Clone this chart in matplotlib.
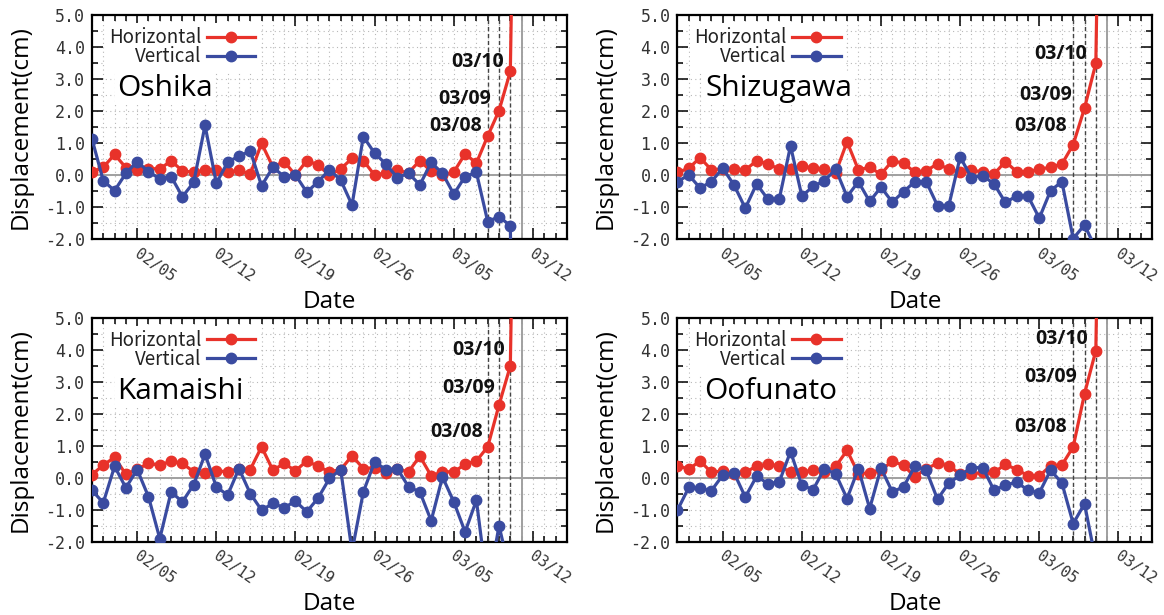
import numpy as np
import pandas as pd
import matplotlib
matplotlib.use("Agg")
import matplotlib.pyplot as plt
import matplotlib.dates as mdates
from matplotlib.ticker import MultipleLocator
from matplotlib.transforms import ScaledTranslation

# daily displacement, 02/01 .. 03/10, then the 03/11 quake day (off scale)
dates = pd.date_range("2011-02-01", "2011-03-11", freq="D")

oshika_h = [0.1, 0.25, 0.65, 0.24, 0.15, 0.21, 0.2, 0.45, 0.14, 0.09,
            0.15, 0.17, 0.1, 0.15, 0.04, 1.0, 0.26, 0.43, 0.0, 0.46,
            0.32, 0.0, 0.2, 0.53, 0.46, 0.0, 0.08, 0.15, 0.08, 0.46,
            0.12, 0.01, 0.1, 0.67, 0.38, 1.23, 2.02, 3.25, 25.0]
oshika_v = [1.14, -0.17, -0.48, 0.06, 0.43, 0.11, -0.11, -0.04, -0.67, -0.22,
            1.56, -0.25, 0.41, 0.6, 0.76, -0.33, 0.25, -0.04, 0.01, -0.53,
            -0.2, 0.17, -0.15, -0.93, 1.21, 0.69, 0.35, -0.07, 0.06, -0.3,
            0.4, 0.06, -0.59, -0.04, 0.09, -1.45, -1.29, -1.58, -25.0]

shizugawa_h = [0.09, 0.22, 0.55, 0.17, 0.2, 0.19, 0.17, 0.45, 0.36, 0.19,
               0.19, 0.3, 0.22, 0.19, 0.08, 1.05, 0.17, 0.25, 0.03, 0.45,
               0.38, 0.09, 0.14, 0.36, 0.19, 0.1, 0.15, 0.11, 0.04, 0.43,
               0.11, 0.11, 0.19, 0.25, 0.35, 0.96, 2.1, 3.5, 25.0]
shizugawa_v = [-0.2, 0.01, -0.4, -0.2, 0.22, -0.3, -1.03, -0.27, -0.75, -0.75,
               0.92, -0.65, -0.35, -0.17, 0.19, -0.67, -0.2, -0.82, -0.37, -0.84,
               -0.51, -0.2, -0.2, -0.95, -0.95, 0.57, -0.07, -0.01, -0.27, -0.85,
               -0.65, -0.65, -1.34, -0.48, -0.2, -1.98, -1.55, -2.3, -25.0]

kamaishi_h = [0.1, 0.4, 0.64, 0.11, 0.27, 0.45, 0.4, 0.52, 0.45, 0.19,
              0.16, 0.22, 0.19, 0.29, 0.26, 0.97, 0.24, 0.45, 0.22, 0.53,
              0.36, 0.19, 0.26, 0.69, 0.29, 0.32, 0.14, 0.27, 0.19, 0.68,
              0.06, 0.19, 0.19, 0.42, 0.53, 0.97, 2.28, 3.5, 25.0]
kamaishi_v = [-0.39, -0.78, 0.36, -0.31, 0.26, -0.59, -1.9, -0.44, -0.75, -0.21,
              0.74, -0.28, -0.54, 0.29, -0.49, -1.01, -0.8, -0.93, -0.73, -1.06,
              -0.63, -0.02, 0.26, -2.3, -0.44, 0.5, 0.26, 0.29, -0.28, -0.44,
              -1.34, 0.03, -0.75, -1.69, -0.7, -3.5, -1.5, -3.0, -25.0]

oofunato_h = [0.38, 0.27, 0.53, 0.17, 0.22, 0.13, 0.17, 0.37, 0.42, 0.38,
              0.17, 0.17, 0.25, 0.17, 0.36, 0.86, 0.13, 0.16, 0.24, 0.52,
              0.39, 0.03, 0.29, 0.45, 0.38, 0.12, 0.12, 0.17, 0.17, 0.42,
              0.26, 0.07, 0.06, 0.38, 0.4, 0.97, 2.63, 3.98, 25.0]
oofunato_v = [-1.01, -0.3, -0.33, -0.4, 0.08, 0.16, -0.6, 0.05, -0.18, -0.13,
              0.82, -0.23, -0.37, 0.29, 0.12, -0.65, 0.29, -0.96, 0.31, -0.44,
              -0.28, 0.37, 0.24, -0.67, -0.16, 0.08, 0.32, 0.32, -0.39, -0.23,
              -0.13, -0.39, -0.47, 0.24, -0.16, -1.43, -0.81, -2.6, -25.0]

stations = ["Oshika", "Shizugawa", "Kamaishi", "Oofunato"]
horizontal = [oshika_h, shizugawa_h, kamaishi_h, oofunato_h]
vertical = [oshika_v, shizugawa_v, kamaishi_v, oofunato_v]
marked_days = ["03/08", "03/09", "03/10"]

# layout: (right edge in days after 02/01, y) for the 03/08, 03/09, 03/10 labels
day_label_pos = [
    [(34.45, 1.53), (35.3, 2.4), (36.45, 3.54)],
    [(34.4, 1.55), (34.9, 2.52), (36.25, 3.78)],
    [(34.6, 1.44), (35.6, 2.8), (36.5, 4.0)],
    [(34.4, 1.6), (35.3, 3.14), (36.3, 4.35)],
]
axes_rects = [
    [0.079, 0.611, 0.408, 0.364],
    [0.582, 0.611, 0.408, 0.364],
    [0.079, 0.119, 0.408, 0.364],
    [0.582, 0.119, 0.408, 0.364],
]

RED = "#e8322a"
BLUE = "#3a4ba0"
start = mdates.date2num(pd.Timestamp("2011-02-01"))

fig = plt.figure(figsize=(11.64, 6.15), dpi=100)
label_shift = ScaledTranslation(3 / 100, 0, fig.dpi_scale_trans)

for k, name in enumerate(stations):
    ax = fig.add_axes(axes_rects[k])
    ax.plot(dates, horizontal[k], color=RED, lw=2.3, marker="o", ms=7.5,
            label="Horizontal", zorder=4)
    ax.plot(dates, vertical[k], color=BLUE, lw=2.3, marker="o", ms=7.5,
            label="Vertical", zorder=5)

    ax.axhline(0, color="#a0a0a0", lw=1.4, zorder=2)
    ax.axvline(pd.Timestamp("2011-03-11"), color="#a0a0a0", lw=1.4, zorder=2)
    for d in ["2011-03-08", "2011-03-09", "2011-03-10"]:
        ax.axvline(pd.Timestamp(d), color="#444444", lw=1.0, ls=(0, (3, 2)), zorder=2)

    ax.set_xlim(pd.Timestamp("2011-02-01"), pd.Timestamp("2011-03-15"))
    ax.set_ylim(-2.0, 5.0)
    ax.xaxis.set_major_locator(mdates.DayLocator(bymonthday=[5, 12, 19, 26]))
    ax.xaxis.set_minor_locator(mdates.DayLocator())
    ax.xaxis.set_major_formatter(mdates.DateFormatter("%m/%d"))
    ax.yaxis.set_major_locator(MultipleLocator(1.0))
    ax.yaxis.set_minor_locator(MultipleLocator(0.5))
    ax.yaxis.set_major_formatter(plt.FormatStrFormatter("%.1f"))

    ax.grid(which="both", color="#b8b8b8", lw=0.8, ls=(0, (1, 3)), zorder=1)
    ax.tick_params(which="both", direction="in", top=True, right=True, width=1.1)
    ax.tick_params(which="major", length=8, pad=5, labelsize=12, labelcolor="#333333")
    ax.tick_params(axis="x", which="major", labelsize=11)
    ax.tick_params(which="minor", length=4)
    for lab in ax.get_xticklabels() + ax.get_yticklabels():
        lab.set_fontfamily("DejaVu Sans Mono")
    for tick in ax.xaxis.get_major_ticks():
        lab = tick.label1
        lab.set_rotation(-35)
        lab.set_ha("left")
        lab.set_va("top")
        lab.set_rotation_mode("anchor")
        lab.set_transform(lab.get_transform() + label_shift)
    for sp in ax.spines.values():
        sp.set_linewidth(1.6)

    ax.set_ylabel("Displacement(cm)", fontsize=17.5, family="Open Sans")
    ax.yaxis.set_label_coords(-0.125, 0.5)
    ax.set_xlabel("Date", fontsize=17.5, family="Open Sans")
    ax.xaxis.set_label_coords(0.5, -0.225)

    leg = ax.legend(loc="center right", bbox_to_anchor=(0.352, 0.858), markerfirst=False,
                    frameon=True, fancybox=False, framealpha=1, edgecolor="none",
                    prop={"family": "Noto Sans CJK JP", "size": 13.5},
                    handlelength=2.6, handletextpad=0.3, labelspacing=-0.1,
                    borderpad=0.2, borderaxespad=0)
    leg.set_zorder(6)
    for t in leg.get_texts():
        t.set_color("#222222")

    ax.text(start + [2.2, 2.5, 2.2, 2.4][k], 2.7, name, fontsize=21.5, family="Open Sans",
            va="center", ha="left", zorder=6,
            bbox=dict(facecolor="white", edgecolor="none", pad=1))

    for lbl, (dx, y) in zip(marked_days, day_label_pos[k]):
        ax.text(start + dx, y, lbl, fontsize=14, family="Open Sans", fontweight="bold",
                ha="right", va="center", color="#111111", zorder=6)

fig.savefig("out.png", dpi=100)
